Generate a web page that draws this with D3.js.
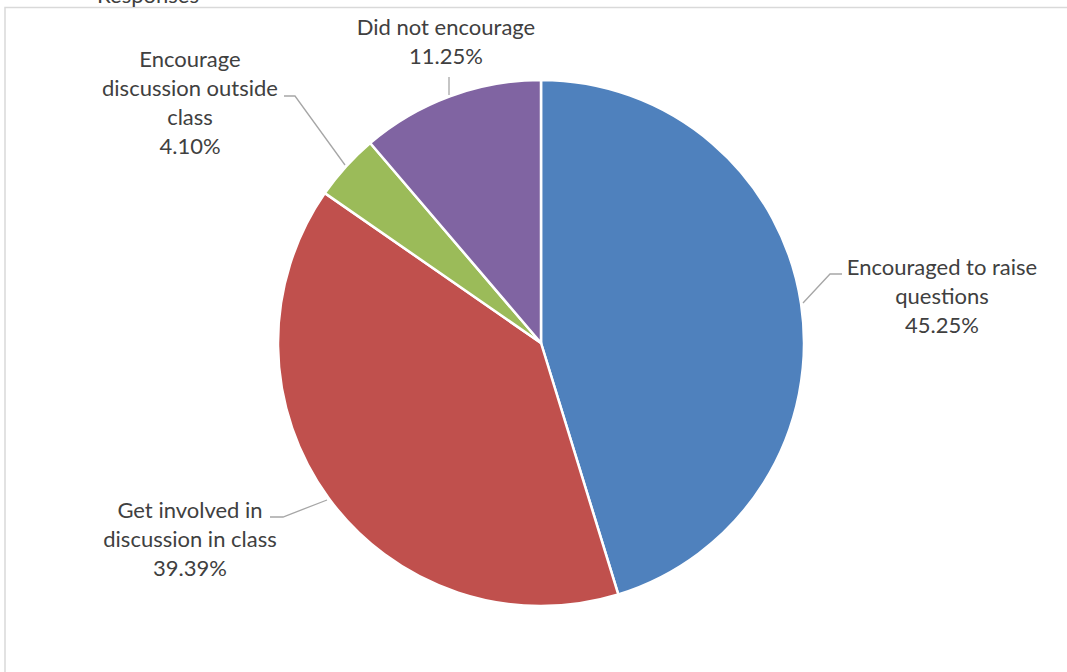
<!DOCTYPE html>
<html><head><meta charset="utf-8">
<script src="https://cdn.jsdelivr.net/npm/d3@7"></script>
<style>body{margin:0;background:#fff}svg{display:block}</style>
</head><body>
<svg id="chart" width="1067" height="672"></svg>
<script>
const categories = ["Encouraged to raise questions", "Get involved in discussion in class", "Encourage discussion outside class", "Did not encourage"];
const values = [45.25, 39.39, 4.10, 11.25];
const valueLabels = ["45.25%", "39.39%", "4.10%", "11.25%"];
const labelLines = [["Encouraged to raise", "questions"], ["Get involved in", "discussion in class"], ["Encourage", "discussion outside", "class"], ["Did not encourage"]];
const colors = ["#4f81bd", "#c0504d", "#9bbb59", "#8064a2"];

const svg = d3.select("#chart");
const cx = 541, cy = 343, R = 263;
const font = "Lato, 'Open Sans', sans-serif", fs = 22;

// chart frame
svg.append("rect").attr("x", 5).attr("y", 7.5).attr("width", 1100).attr("height", 700)
  .attr("fill", "none").attr("stroke", "#d9d9d9").attr("stroke-width", 1.5);
svg.append("text").attr("x", 148).attr("y", 3).attr("text-anchor", "middle")
  .attr("font-family", font).attr("font-size", fs).attr("fill", "#404040")
  .text("Responses");

const pie = d3.pie().sort(null).value(d => d)(values);
const arc = d3.arc().innerRadius(0).outerRadius(R);
const g = svg.append("g").attr("transform", `translate(${cx},${cy})`);
g.selectAll("path").data(pie).join("path")
  .attr("d", arc).attr("fill", (d, i) => colors[i])
  .attr("stroke", "#fff").attr("stroke-width", 2.5).attr("stroke-linejoin", "round");

// label layout (text block centre x, first baseline y, leader line points)
const labelPos = [
  {x: 942, y: 275, line: [[842, 274], [830, 274], [803, 303]]},
  {x: 190, y: 518, line: [[270, 517], [283, 517], [327, 500]]},
  {x: 190, y: 67,  line: [[284, 96], [295, 96], [345, 165]]},
  {x: 446, y: 35,  line: [[449, 77], [449, 95]]}
];
const lh = 29;
labelPos.forEach((p, i) => {
  svg.append("path").attr("d", d3.line()(p.line)).attr("fill", "none")
    .attr("stroke", "#a6a6a6").attr("stroke-width", 1.3);
  const t = svg.append("text").attr("text-anchor", "middle")
    .attr("font-family", font).attr("font-size", fs).attr("fill", "#404040");
  const lines = labelLines[i].concat([valueLabels[i]]);
  lines.forEach((s, k) => t.append("tspan").attr("x", p.x).attr("y", p.y + k * lh).text(s));
});
</script>
</body></html>
